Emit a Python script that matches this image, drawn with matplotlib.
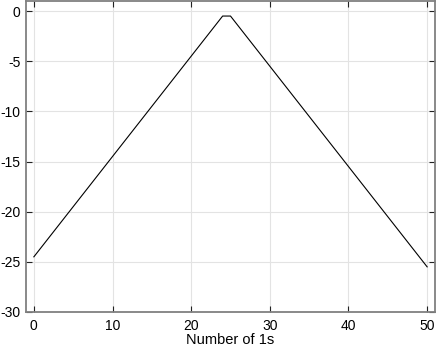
import matplotlib
matplotlib.use('Agg')
import matplotlib.pyplot as plt

# number of 1s and the curve value at each count
ones = list(range(51))
values = [-24.5, -23.5, -22.5, -21.5, -20.5, -19.5, -18.5, -17.5, -16.5, -15.5,
          -14.5, -13.5, -12.5, -11.5, -10.5, -9.5, -8.5, -7.5, -6.5, -5.5,
          -4.5, -3.5, -2.5, -1.5, -0.5, -0.5, -1.5, -2.5, -3.5, -4.5,
          -5.5, -6.5, -7.5, -8.5, -9.5, -10.5, -11.5, -12.5, -13.5, -14.5,
          -15.5, -16.5, -17.5, -18.5, -19.5, -20.5, -21.5, -22.5, -23.5, -24.5,
          -25.5]
xticks = [0, 10, 20, 30, 40, 50]
yticks = [0, -5, -10, -15, -20, -25, -30]

plt.rcParams['font.family'] = ['Liberation Sans', 'DejaVu Sans']
plt.rcParams['axes.unicode_minus'] = False

fig = plt.figure(figsize=(4.36, 3.48), dpi=100)
ax = fig.add_axes([26 / 436, 1 - 312 / 348, 409 / 436, 311 / 348])

ax.plot(ones, values, color='black', linewidth=0.8)

ax.set_xlim(-1, 51)
ax.set_ylim(-30, 1)
ax.set_xticks(xticks)
ax.set_yticks(yticks)
ax.grid(True, color='#e3e3e3', linewidth=0.8)
ax.set_axisbelow(True)
ax.tick_params(direction='in', length=4, width=0.8, color='#222222',
               top=True, right=True, labelsize=10)
ax.tick_params(axis='x', pad=5)
ax.tick_params(axis='y', pad=4)
for s in ax.spines.values():
    s.set_color('#808080')
    s.set_linewidth(1.3)
ax.set_xlabel('Number of 1s', fontsize=10.5, labelpad=0)

fig.savefig('out.png', dpi=100)
